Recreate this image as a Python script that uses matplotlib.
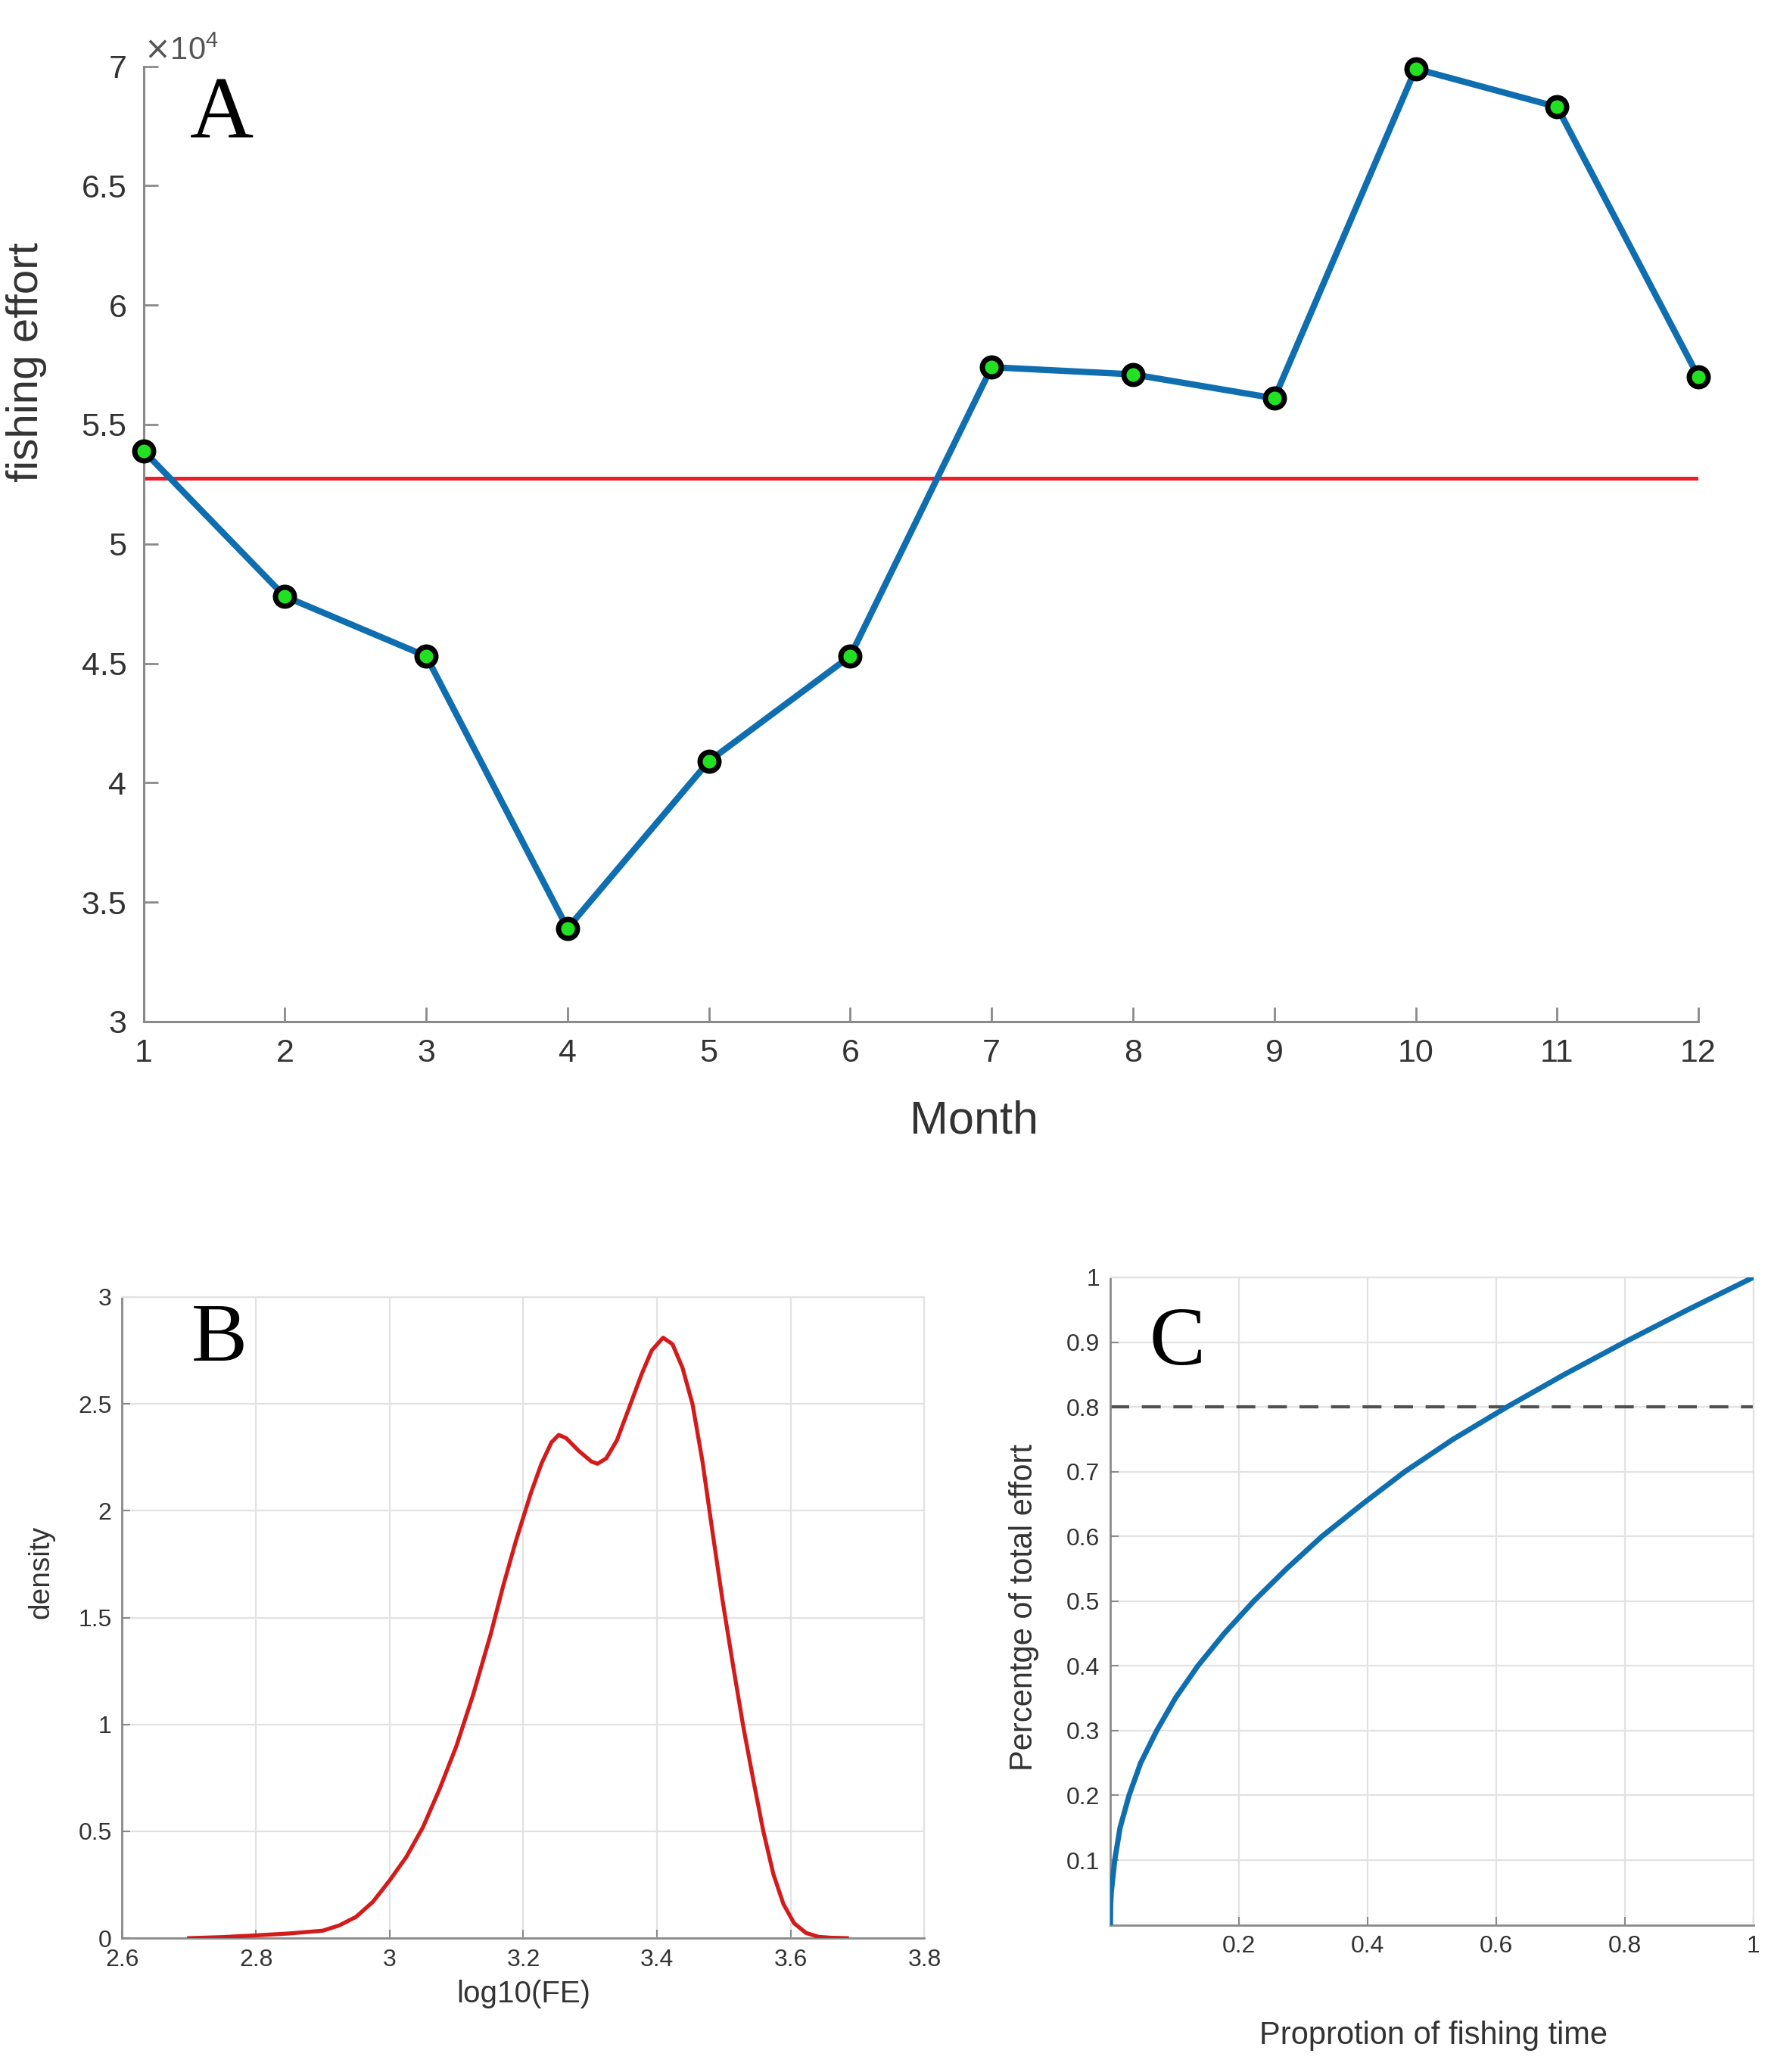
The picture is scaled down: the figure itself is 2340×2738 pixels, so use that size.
import numpy as np
import matplotlib
matplotlib.use('Agg')
import matplotlib.pyplot as plt
from matplotlib.ticker import FuncFormatter

# panel A: monthly fishing effort
months = [1, 2, 3, 4, 5, 6, 7, 8, 9, 10, 11, 12]
effort = [53900, 47800, 45300, 33900, 40900, 45300, 57400, 57100, 56100, 69900, 68300, 57000]

# panel B: density of log10(FE)
fe_log = [2.70, 2.75, 2.80, 2.85, 2.90, 2.925, 2.95, 2.975, 3.00, 3.025, 3.05, 3.075,
          3.10, 3.125, 3.151, 3.170, 3.189, 3.200, 3.211, 3.227, 3.242, 3.253, 3.264,
          3.283, 3.302, 3.311, 3.324, 3.340, 3.358, 3.377, 3.392, 3.409, 3.423, 3.438,
          3.453, 3.468, 3.483, 3.498, 3.514, 3.529, 3.544, 3.559, 3.574, 3.589, 3.605,
          3.623, 3.642, 3.660, 3.684]
density = [0.0, 0.005, 0.013, 0.022, 0.035, 0.06, 0.10, 0.17, 0.27, 0.38, 0.52, 0.70,
           0.90, 1.14, 1.42, 1.65, 1.86, 1.97, 2.08, 2.22, 2.32, 2.355, 2.34,
           2.28, 2.23, 2.22, 2.245, 2.33, 2.48, 2.64, 2.75, 2.81, 2.78, 2.67,
           2.50, 2.23, 1.90, 1.58, 1.27, 0.99, 0.74, 0.50, 0.30, 0.16, 0.07,
           0.024, 0.006, 0.002, 0.0]

# panel C: cumulative share of effort vs share of fishing time
time_prop = [0, 0.0003, 0.0013, 0.0067, 0.015, 0.029, 0.047, 0.072, 0.101, 0.136, 0.177,
             0.223, 0.274, 0.329, 0.392, 0.458, 0.533, 0.617, 0.706, 0.800, 0.898, 1.0]
effort_pct = [0, 0.03, 0.05, 0.10, 0.15, 0.20, 0.25, 0.30, 0.35, 0.40, 0.45,
              0.50, 0.55, 0.60, 0.65, 0.70, 0.75, 0.80, 0.85, 0.90, 0.95, 1.0]
threshold = 0.8

plt.rcParams['font.family'] = ['Liberation Sans', 'DejaVu Sans']
spine_col = '#8a8a8a'
text_col = '#333333'
grid_col = '#e2e2e2'

fig = plt.figure(figsize=(23.4, 27.38), dpi=100)

# ---------------- A ----------------
axA = fig.add_axes([0.081, 0.507, 0.878, 0.461])
axA.plot(months, [np.mean(effort)] * len(months), color='#ee1c24', lw=3.6, zorder=2)
axA.plot(months, effort, color='#0f6eaf', lw=6, zorder=3,
         marker='o', markersize=18, markerfacecolor='#22e022',
         markeredgecolor='black', markeredgewidth=5, clip_on=False)
axA.set_xlim(1, 12)
axA.set_ylim(30000, 70000)
axA.set_xticks(months)
axA.set_yticks(np.arange(30000, 70001, 5000))
axA.yaxis.set_major_formatter(FuncFormatter(lambda v, p: '%g' % (v / 1e4)))
for s in ['top', 'right']:
    axA.spines[s].set_visible(False)
for s in ['left', 'bottom']:
    axA.spines[s].set_color(spine_col)
    axA.spines[s].set_linewidth(2.2)
axA.tick_params(direction='in', length=14, width=2, colors=spine_col,
                labelcolor=text_col, labelsize=31, pad=16)
axA.set_xlabel('Month', fontsize=44, color=text_col)
axA.set_ylabel('fishing effort', fontsize=42, color=text_col)
axA.xaxis.set_label_coords(0.534, -0.082)
axA.yaxis.set_label_coords(-0.062, 0.69)
axA.text(0.0, 1.0, r'$\times\mathregular{10^4}$', transform=axA.transAxes,
         fontsize=30, color='#555555', va='bottom', ha='left')
axA.text(0.03, 0.925, 'A', transform=axA.transAxes, fontsize=84,
         family='Liberation Serif', va='baseline')

# ---------------- B ----------------
axB = fig.add_axes([0.069, 0.0646, 0.453, 0.3094])
axB.plot(fe_log, density, color='#d41b1b', lw=3.8, zorder=3)
axB.set_xlim(2.6, 3.8)
axB.set_ylim(0, 3)
axB.set_xticks(np.arange(2.6, 3.81, 0.2))
axB.set_yticks(np.arange(0, 3.01, 0.5))
axB.xaxis.set_major_formatter(FuncFormatter(lambda v, p: '%g' % round(v, 1)))
axB.yaxis.set_major_formatter(FuncFormatter(lambda v, p: '%g' % v))
axB.set_xlabel('log10(FE)', fontsize=29, color=text_col)
axB.set_ylabel('density', fontsize=28, color=text_col)
axB.xaxis.set_label_coords(0.50, -0.065)
axB.yaxis.set_label_coords(-0.084, 0.571)
axB.text(0.086, 0.901, 'B', transform=axB.transAxes, fontsize=80,
         family='Liberation Serif', va='baseline')

# ---------------- C ----------------
axC = fig.add_axes([0.627, 0.071, 0.363, 0.3125])
axC.plot(time_prop, effort_pct, color='#0f6eaf', lw=5, zorder=3)
axC.plot([0, 1], [threshold, threshold], color='#505050', lw=3,
         linestyle=(0, (6, 4)), zorder=2)
axC.set_xlim(0, 1)
axC.set_ylim(0, 1)
axC.set_xticks(np.arange(0.2, 1.01, 0.2))
axC.set_yticks(np.arange(0.1, 1.01, 0.1))
axC.xaxis.set_major_formatter(FuncFormatter(lambda v, p: '%g' % round(v, 1)))
axC.yaxis.set_major_formatter(FuncFormatter(lambda v, p: '%g' % round(v, 1)))
axC.set_xlabel('Proprotion of fishing time', fontsize=30, color=text_col)
axC.set_ylabel('Percentge of total effort', fontsize=30, color=text_col)
axC.xaxis.set_label_coords(0.502, -0.148)
axC.yaxis.set_label_coords(-0.111, 0.49)
axC.text(0.06, 0.865, 'C', transform=axC.transAxes, fontsize=80,
         family='Liberation Serif', va='baseline')

for ax in (axB, axC):
    ax.grid(True, color=grid_col, lw=1.6)
    ax.set_axisbelow(True)
    for s in ['top', 'right']:
        ax.spines[s].set_color(grid_col)
        ax.spines[s].set_linewidth(1.6)
    for s in ['left', 'bottom']:
        ax.spines[s].set_color(spine_col)
        ax.spines[s].set_linewidth(2)
    ax.tick_params(direction='in', length=8, width=1.5, colors=spine_col,
                   labelcolor=text_col, labelsize=23, pad=10)

fig.savefig('out.png', dpi=100, facecolor='white')
